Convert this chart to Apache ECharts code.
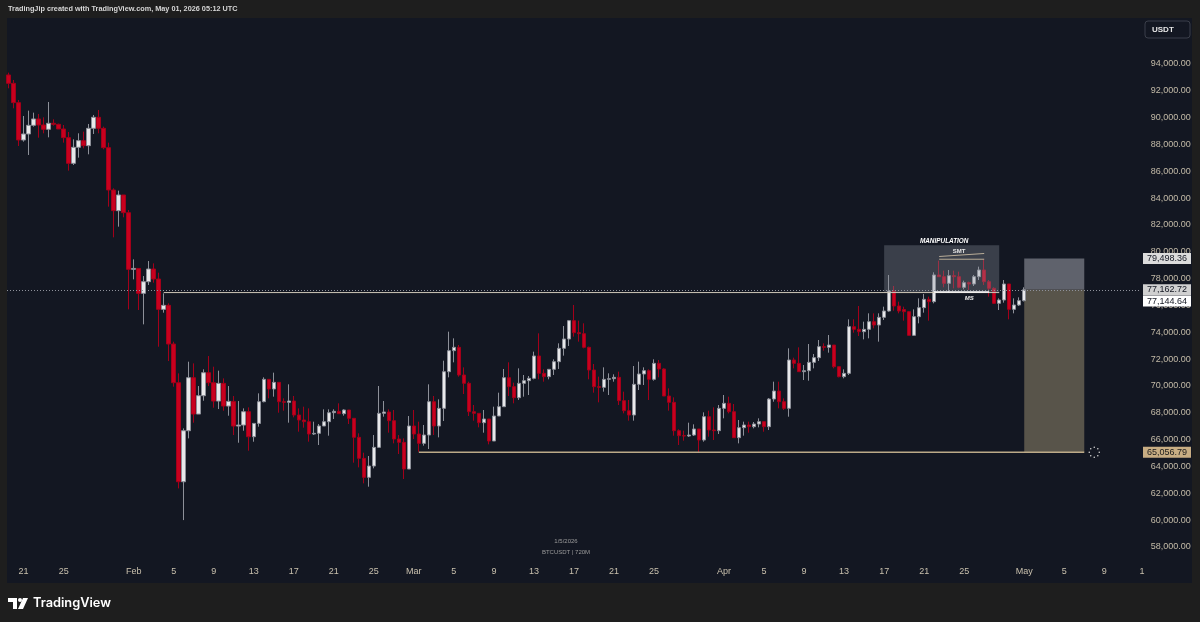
<!DOCTYPE html>
<html><head><meta charset="utf-8">
<script src="https://cdn.jsdelivr.net/npm/echarts@6/dist/echarts.min.js"></script>
<style>html,body{margin:0;padding:0;background:#1e1e1e;}#c{width:1200px;height:622px;}</style>
</head><body><div id="c"></div>
<script>
// ---- data (12h candles, BTCUSDT) ----
const firstCandle = Date.UTC(2026, 0, 19, 12);
const slotCount = 227;
const opens = [
93180,92558,91117,88334,88781,89427,89900,89452,89129,89577,
89502,89154,88508,86594,87787,88284,87911,89204,90024,89204,
87762,84607,83066,84234,82916,78692,78760,76903,77773,78717,
77971,75710,76009,73126,70243,62862,66664,70616,67907,69274,
70988,70243,68876,70194,68503,68851,67012,67087,68081,66218,
67211,68829,70494,69774,70270,68829,68780,68879,67835,67463,
67338,66419,66470,67015,67338,68009,68109,67935,68208,67587,
66171,64605,63189,64033,65424,67960,68059,67413,66046,65797,
63810,67015,66419,65723,66344,68829,67015,68332,71065,72631,
72880,70817,70196,68083,67960,67264,67537,65897,67761,68456,
70618,69948,69127,70196,70395,70569,72234,70941,70693,71240,
71811,72805,73501,74868,73973,73898,72880,71190,69948,69898,
70494,70544,70643,68904,68158,67835,70122,70892,71140,70494,
71687,71265,69252,68780,66668,66294,66270,66344,66792,65972,
67711,66717,66668,68332,68705,68084,66146,66891,67090,66966,
67164,67339,66966,69027,69623,68828,68331,71935,71686,71065,
71139,71760,72109,72929,72879,73052,71437,70692,70940,74419,
74220,74047,74220,74792,74543,75115,75587,77078,75960,75700,
75537,73773,75165,75836,76457,76283,78271,78147,77650,78222,
78147,77352,77700,77600,78147,78644,77774,77277,76159,76407,
77600,75711,76035,76358];
const closes = [
92558,91117,88334,88781,89427,89900,89452,89129,89577,89502,
89154,88508,86594,87787,88284,87911,89204,90024,89204,87762,
84607,83066,84234,82916,78692,78760,76903,77773,78717,77971,
75710,76009,73126,70243,62862,66664,70616,67907,69274,70988,
70243,68876,70194,68503,68851,67012,67087,68081,66218,67211,
68829,70494,69774,70270,68829,68780,68879,67835,67463,67338,
66419,66470,67015,67338,68009,68109,67935,68208,67587,66171,
64605,63189,64033,65424,67960,68059,67413,66046,65797,63810,
67015,66419,65723,66344,68829,67015,68332,71065,72631,72880,
70817,70196,68083,67960,67264,67537,65897,67761,68456,70618,
69948,69127,70196,70395,70569,72234,70941,70693,71240,71811,
72805,73501,74868,73973,73898,72880,71190,69948,69898,70494,
70544,70643,68904,68158,67835,70122,70892,71140,70494,71687,
71265,69252,68780,66668,66294,66270,66344,66792,65972,67711,
66717,66668,68332,68705,68084,66146,66891,67090,66966,67164,
67339,66966,69027,69623,68828,68331,71935,71686,71065,71139,
71760,72109,72929,72879,73052,71437,70692,70940,74419,74220,
74047,74220,74792,74543,75115,75587,77078,75960,75587,75537,
73773,75165,75836,76457,76283,78271,78147,77650,78222,78147,
77352,77700,77600,78147,78644,77774,77277,76159,76407,77600,
75711,76035,76358,77162.72];
const lows = [
92186,90695,87886,88210,87216,89328,88508,88831,88533,89402,
89154,88135,86048,86470,87017,87713,87265,88781,88831,87638,
83364,81078,81873,82569,75710,77947,75661,74592,77525,77698,
72927,75462,71858,69945,62365,60004,66093,67261,67907,68900,
69995,68379,68280,68155,67783,66342,65770,66664,65174,65845,
66966,68780,69078,69202,68009,68158,67264,67661,66593,66891,
65847,66344,65598,67015,66295,67537,67935,67786,67164,64282,
63934,62741,62493,63859,65375,67711,66519,65723,64928,63064,
63810,66046,65101,65549,65300,66344,66170,67388,70643,71761,
70693,69400,67760,67413,66916,66518,65648,65897,67761,68456,
69252,68705,68954,69202,69326,70494,70494,70320,70494,70817,
71265,72259,72979,73675,73302,72805,70494,69500,68780,69575,
69326,70320,68581,67960,67413,67413,69699,70072,68954,70395,
70643,69252,68158,66294,65599,65922,66200,66270,65027,65847,
66220,65972,66419,67587,67959,66146,65723,66295,66518,66841,
66916,66592,66716,68828,68331,68207,67710,71313,71065,70443,
70393,71313,71860,72630,72481,71313,70642,70568,70816,73972,
73724,73475,73550,74295,73302,74916,75537,75612,75413,74866,
73773,73724,74668,75463,74866,76159,78147,77352,76953,77277,
77277,77203,77153,77451,77898,77526,76656,76109,75662,76209,
74966,75413,75960,76300];
const highs = [
93354,92807,91316,90123,90521,90372,90273,90024,91167,89875,
89552,89452,88930,88384,88831,88955,89527,90198,90571,89328,
88135,84731,84557,84234,83116,79437,78760,78195,79313,79139,
78444,76903,76158,73300,70939,66838,71809,71685,69995,71237,
72232,71436,71138,70566,69995,69249,68876,68329,68404,67211,
69450,70643,70494,70991,70270,69078,70121,69252,68332,68456,
68332,67338,67164,68257,68257,68257,68705,68257,68208,67587,
66469,65027,64779,66344,69997,68879,68257,68208,66344,66096,
67760,68208,67338,67090,70121,69252,69003,71885,74047,73550,
73054,71388,70320,68581,67960,68208,67537,68456,69500,71265,
71762,70246,71314,70817,70743,72557,73923,71240,71240,71985,
73178,74470,74918,76036,74868,74669,72929,71637,70693,71389,
70941,70867,71066,69575,68954,71488,71811,71389,71240,71985,
71935,71314,69823,69152,66767,66668,67264,67140,66792,68034,
68158,68407,68581,69326,69202,68656,67463,67339,67339,67314,
67587,67339,69100,70319,70319,69077,72805,72109,72879,71562,
73127,72382,73425,73177,73798,73052,71437,71238,74966,74966,
75960,74792,75413,75413,75413,75910,78271,77451,76283,75910,
75587,75711,76531,76855,76656,78470,79340,78594,78644,78594,
78520,77849,77775,78271,78893,79439,77898,77352,76532,77898,
77600,76532,76606,77352];
const tickDates = ['2026-01-21','2026-01-25','2026-02-01','2026-02-05','2026-02-09','2026-02-13','2026-02-17','2026-02-21','2026-02-25','2026-03-01','2026-03-05','2026-03-09','2026-03-13','2026-03-17','2026-03-21','2026-03-25','2026-04-01','2026-04-05','2026-04-09','2026-04-13','2026-04-17','2026-04-21','2026-04-25','2026-05-01','2026-05-05','2026-05-09'];
const tickTexts = ['21','25','Feb','5','9','13','17','21','25','Mar','5','9','13','17','21','25','Apr','5','9','13','17','21','25','May','5','9'];
const priceTagValues = [79498.36, 77162.72, 77144.64, 65056.79];
const lastPrice = 77162.72;
const targetPrice = 79498.36;
const stopPrice = 65056.79;
const levelPrice = 76960;
const manipTop = 80480;
const smtHigh = 79446;

// ---- build ----
const pad = n => String(n).padStart(2, '0');
const categories = [];
for (let i = 0; i < slotCount; i++) {
  const d = new Date(firstCandle + i * 12 * 3600 * 1000);
  categories.push(d.getUTCFullYear() + '-' + pad(d.getUTCMonth() + 1) + '-' + pad(d.getUTCDate()) + ' ' + pad(d.getUTCHours()) + ':00');
}
const tickMap = {};
tickDates.forEach((d, i) => { tickMap[d + ' 00:00'] = tickTexts[i]; });
const candles = opens.map((o, i) => [o, closes[i], lows[i], highs[i]]);

const chart = echarts.init(document.getElementById('c'), null, {renderer: 'canvas'});
const FONT = '"Liberation Sans", Arial, sans-serif';
chart.setOption({
  backgroundColor: '#1e1e1e',
  animation: false,
  grid: {left: 6.1, right: 58.2, top: 10.3, bottom: 48.2},
  xAxis: {
    type: 'category', data: categories, boundaryGap: true, offset: -11,
    axisLine: {show: false}, axisTick: {show: false}, splitLine: {show: false},
    axisLabel: {
      interval: (idx, val) => tickMap[val] !== undefined,
      formatter: val => tickMap[val] || '',
      color: '#c9c0ad', fontSize: 9, fontFamily: FONT, margin: 4
    }
  },
  yAxis: {
    type: 'value', position: 'right', min: 56000, max: 98000, interval: 2000, scale: true,
    axisLine: {show: false}, axisTick: {show: false}, splitLine: {show: false},
    axisLabel: {
      color: '#c4bba8', fontSize: 9, fontFamily: FONT, margin: 9, align: 'left',
      formatter: v => (v < 58000 || v > 94000) ? '' : v.toLocaleString('en-US', {minimumFractionDigits: 2, maximumFractionDigits: 2})
    }
  },
  series: [{
    type: 'candlestick', data: candles, barWidth: 4, z: 3,
    itemStyle: {color: '#e8e8ea', color0: '#c8001e', borderColor: '#8d9099', borderColor0: '#a3001a', borderWidth: 1}
  }]
});

function P(idx, price) { return chart.convertToPixel({gridIndex: 0}, [idx, price]); }
const g = [];
// frame panel
g.push({type: 'rect', z: -50, silent: true, shape: {x: 7, y: 18, width: 1185, height: 565}, style: {fill: '#131722'}});
// header
g.push({type: 'text', z: 10, style: {text: 'TradingJip created with TradingView.com, May 01, 2026 05:12 UTC', x: 8, y: 9, verticalAlign: 'middle', fill: '#d6d6d6', font: '600 7.3px ' + FONT}});
// USDT box
g.push({type: 'rect', z: 10, shape: {x: 1145, y: 21, width: 45, height: 17, r: 3}, style: {fill: '#131722', stroke: '#3b3f4a', lineWidth: 1}});
g.push({type: 'text', z: 11, style: {text: 'USDT', x: 1152, y: 29.5, verticalAlign: 'middle', fill: '#e6e6e6', font: 'bold 8px ' + FONT}});

// manipulation box
const mA = P(175, manipTop), mB = P(197.8, levelPrice);
g.push({type: 'rect', z: 4, shape: {x: mA[0], y: mA[1], width: mB[0] - mA[0], height: mB[1] - mA[1]}, style: {fill: 'rgba(140,145,158,0.33)'}});
// target box
const tA = P(202.6, targetPrice), tM = P(214.6, lastPrice), tB = P(214.6, stopPrice);
g.push({type: 'rect', z: 1, shape: {x: tA[0], y: tA[1], width: tM[0] - tA[0], height: tM[1] - tA[1]}, style: {fill: '#5f626c'}});
g.push({type: 'rect', z: 1, shape: {x: tA[0], y: tM[1], width: tM[0] - tA[0], height: tB[1] - tM[1]}, style: {fill: '#58544a'}});
// last price dotted line
const lp = P(0, lastPrice);
g.push({type: 'line', z: 6, shape: {x1: 7, y1: Math.round(lp[1]) + 0.5, x2: 1141, y2: Math.round(lp[1]) + 0.5}, style: {stroke: '#8f929b', lineWidth: 1, lineDash: [1, 2]}});
// horizontal level line
const l1 = P(31, levelPrice), l2 = P(197.8, levelPrice);
g.push({type: 'line', z: 6, shape: {x1: l1[0], y1: l1[1], x2: l2[0], y2: l2[1]}, style: {stroke: '#cfc8b8', lineWidth: 1}});
// stop line
const s1 = P(81.8, stopPrice), s2 = P(214.6, stopPrice);
g.push({type: 'line', z: 6, shape: {x1: s1[0], y1: s1[1], x2: s2[0], y2: s2[1]}, style: {stroke: '#bcaa88', lineWidth: 1.5}});
// MS line
const ms1 = P(184.6, levelPrice), ms2 = P(195.8, levelPrice);
g.push({type: 'line', z: 7, shape: {x1: ms1[0], y1: ms1[1] - 0.5, x2: ms2[0], y2: ms2[1] - 0.5}, style: {stroke: '#ffffff', lineWidth: 1.5}});
const msT = P(191.8, levelPrice);
g.push({type: 'text', z: 8, style: {text: 'MS', x: msT[0], y: msT[1] + 6, align: 'center', verticalAlign: 'middle', fill: '#e8e8e8', font: 'italic bold 6px ' + FONT}});
// SMT bracket line
const b1 = P(186, smtHigh), b2 = P(195, smtHigh);
g.push({type: 'line', z: 6, shape: {x1: b1[0], y1: b1[1], x2: b2[0], y2: b2[1]}, style: {stroke: '#b9ad98', lineWidth: 1}});
const sm1 = P(185.8, 79650), sm2 = P(194.8, 79874);
g.push({type: 'line', z: 6, shape: {x1: sm1[0], y1: sm1[1], x2: sm2[0], y2: sm2[1]}, style: {stroke: '#b9ad98', lineWidth: 1}});
const smT = P(190.2, 80030);
g.push({type: 'text', z: 8, style: {text: 'SMT', x: smT[0], y: smT[1], align: 'center', verticalAlign: 'middle', fill: '#e8e8e8', font: 'bold 6px ' + FONT}});
const mT = P(186.6, 80780);
g.push({type: 'text', z: 8, style: {text: 'MANIPULATION', x: mT[0], y: mT[1], align: 'center', verticalAlign: 'middle', fill: '#ffffff', font: 'italic bold 6.4px ' + FONT}});
// spinner
const sp = P(216.7, stopPrice);
for (let k = 0; k < 8; k++) {
  const a = k * Math.PI / 4;
  g.push({type: 'circle', z: 8, shape: {cx: sp[0] + 5 * Math.cos(a), cy: sp[1] + 5 * Math.sin(a), r: 0.8}, style: {fill: '#d0d0d0'}});
}
// price tags
const tagStyles = [
  {bg: '#dcdcdc', fg: '#131722', dy: 0},
  {bg: '#d0d0d0', fg: '#131722', dy: 0},
  {bg: '#ffffff', fg: '#131722', dy: 11},
  {bg: '#c8ad83', fg: '#1a1a1a', dy: 0}
];
priceTagValues.forEach((v, i) => {
  const y = P(0, v)[1] + tagStyles[i].dy;
  g.push({type: 'rect', z: 12, shape: {x: 1143, y: y - 5.5, width: 48, height: 11}, style: {fill: tagStyles[i].bg}});
  g.push({type: 'text', z: 13, style: {text: v.toLocaleString('en-US', {minimumFractionDigits: 2}), x: 1167, y: y, align: 'center', verticalAlign: 'middle', fill: tagStyles[i].fg, font: '9px ' + FONT}});
});
// clipped label at far right
g.push({type: 'text', z: 10, style: {text: '1', x: 1142, y: 572, align: 'center', verticalAlign: 'middle', fill: '#c9c0ad', font: '9px ' + FONT}});
// watermark
g.push({type: 'text', z: 10, style: {text: '1/5/2026', x: 566, y: 541, align: 'center', verticalAlign: 'middle', fill: '#9a9a9a', font: '6px ' + FONT}});
g.push({type: 'text', z: 10, style: {text: 'BTCUSDT | 720M', x: 566, y: 552, align: 'center', verticalAlign: 'middle', fill: '#9a9a9a', font: '6px ' + FONT}});
// TradingView logo
g.push({type: 'polygon', z: 10, shape: {points: [[8,598],[17,598],[17,609],[13,609],[13,602],[8,602]]}, style: {fill: '#ffffff'}});
g.push({type: 'circle', z: 10, shape: {cx: 20, cy: 600, r: 2}, style: {fill: '#ffffff'}});
g.push({type: 'polygon', z: 10, shape: {points: [[23,598],[28,598],[23,609],[18,609]]}, style: {fill: '#ffffff'}});
g.push({type: 'text', z: 10, style: {text: 'TradingView', x: 33, y: 603.5, verticalAlign: 'middle', fill: '#ffffff', font: '600 12.8px Inter, "Noto Sans", sans-serif'}});

chart.setOption({graphic: {elements: g}});
</script>
</body></html>
